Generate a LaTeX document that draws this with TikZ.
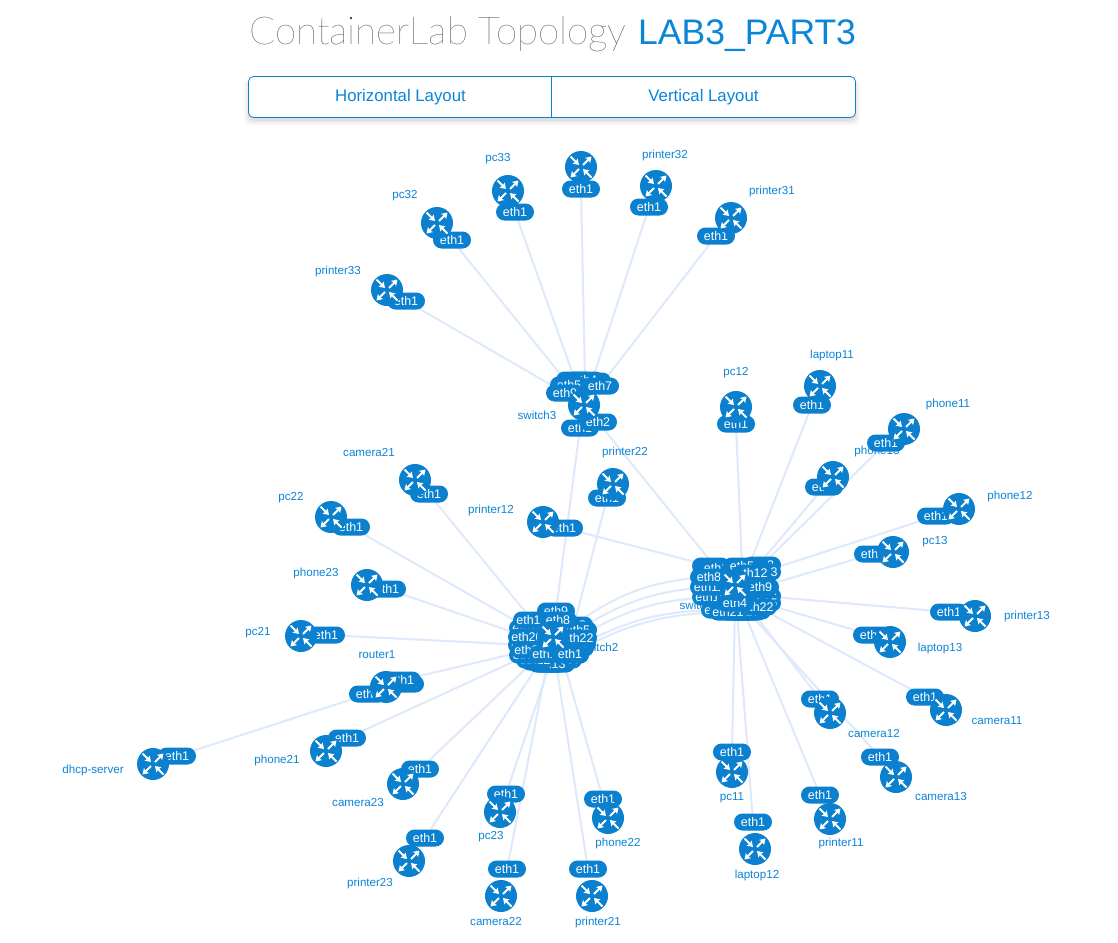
\documentclass[tikz,border=0pt]{standalone}
\usepackage{fontspec}
\setmainfont{Liberation Sans}
\newfontfamily\titlefont{Lato Hairline}
\usetikzlibrary{arrows.meta,calc}
\definecolor{blu}{HTML}{0B80CF}
\definecolor{edgec}{HTML}{DEE9FB}
\definecolor{txtb}{HTML}{0A85D8}
\tikzset{
 lnk/.style={draw=edgec,line width=2pt},
 nodelabel/.style={text=txtb,font=\fontsize{11.6}{11.6}\selectfont,inner sep=0pt},
 badge/.style={fill=blu,rounded corners=8.5pt,minimum width=38pt,minimum height=17pt,inner sep=0pt,text=white,font=\fontsize{12.5}{12.5}\selectfont},
 icon/.style={circle,fill=blu,minimum size=32pt,inner sep=0pt},
 arr/.style={draw=white,line width=1.9pt,-{Stealth[length=5.5pt,width=7pt,inset=0.8pt]}},
 btn/.style={text=txtb,font=\fontsize{16.8}{16.8}\selectfont}
}
\newcommand{\routericon}[3]{%
 \node[icon] (#1) at (#2,#3) {};
 \draw[arr] ($(#1)+(-10.5,-10.5)$) -- ($(#1)+(-2,-2)$);
 \draw[arr] ($(#1)+(10.5,10.5)$) -- ($(#1)+(2,2)$);
 \draw[arr] ($(#1)+(2,-2)$) -- ($(#1)+(10.5,-10.5)$);
 \draw[arr] ($(#1)+(-2,2)$) -- ($(#1)+(-10.5,10.5)$);
}
\pgfdeclarelayer{bgl}\pgfdeclarelayer{edges}
\pgfsetlayers{bgl,edges,main}
\begin{document}
\begin{tikzpicture}[x=1pt,y=-1pt]
\useasboundingbox (0,0) rectangle (1118,942);
\begin{pgfonlayer}{bgl}
\fill[white] (0,0) rectangle (1118,942);
\end{pgfonlayer}
% title
\node[anchor=base west,inner sep=0pt,font=\titlefont\fontsize{38.5}{38.5}\selectfont,text=black!85] (title) at (249,45) {ContainerLab Topology};
\node[anchor=base west,inner sep=0pt,font=\fontsize{35.5}{35.5}\selectfont,text=txtb] (title2) at (638,45) {LAB3\_PART3};
% buttons
\foreach \d/\o in {6/.03,4/.04,2/.05}
 {\fill[black,opacity=\o,rounded corners=5pt] (250-\d,80) rectangle (854+\d,119+\d);}
\draw[draw=blu,fill=white,rounded corners=5pt,line width=.8pt] (248.5,76.5) rectangle (855.5,117.5);
\draw[draw=blu,line width=.8pt] (551.5,76.5) -- (551.5,117.5);
\node[btn] (b1) at (400.5,97.5) {Horizontal Layout};
\node[btn] (b2) at (703.5,97.5) {Vertical Layout};
% labels
\foreach \t/\x/\y in {pc33/498/158,printer32/665/154,printer31/772/190,pc32/405/195,printer33/338/270,
 switch3/537/414,pc12/736/372,laptop11/832/354,phone11/948/403,phone13/877/450,phone12/1010/495,
 pc13/935/541,printer13/1027/615,laptop13/940/647,camera11/997/720,camera12/874/732,camera13/941/795,
 printer11/841/842,laptop12/757/874,pc11/732/797,switch1/699/604,switch2/599/646,printer22/625/451,
 printer12/491/509,camera21/369/452,pc22/291/497,phone23/316/572,pc21/258/632,router1/377/654,
 phone21/277/759,dhcp-server/93/769,camera23/358/801,pc23/491/836,phone22/618/842,printer23/370/882,
 camera22/496/920,printer21/598/921}
 {\node[nodelabel] (l\t) at (\x,\y+1) {\t};}
% leaf badges
\foreach \n/\x/\y in {pcthree/515/212,top/581/189,prtwo/649/207,prone/716/236,pctwo/452/240,prthree/406/301,
 pcot/736/424,lapone/812/405,phone/886/443,phthree/824/487,phtwo/936/516,pcoth/873/554,
 prth/949/612,lapth/872/635,camone/925/697,camtwo/820/699,camth/880/757,prone1/820/795,
 laptwo/753/822,pcone/732/752,prtt/607/498,prot/564/528,camto/429/494,pctt/351/527,
 phtt/387/589,pcto/326/635,phto/347/738,dhcp/177/756,camtth/420/769,pctth/506/794,
 phttw/603/799,prtth/425/838,camttw/507/869,prto/588/869,rtrb/405/684}
 {\node[badge] (b\n) at (\x,\y) {eth1};}
\node[badge] (brtr) at (402,680) {eth1};
\node[badge] (brtrf) at (368,694) {eth4};
% switch3 badges
\node[badge] (c3) at (592,381) {eth3};
\node[badge] (c6) at (575,380) {eth6};
\node[badge] (c4) at (585,380) {eth4};
\node[badge] (c7) at (600,386) {eth7};
\node[badge] (c5) at (569,385) {eth5};
\node[badge] (c9) at (565,393) {eth9};
\node[badge] (c1) at (580,428) {eth1};
\node[badge] (c2) at (598,422) {eth2};
% switch1 badges
\foreach \n/\t/\x/\y in {
 a20/eth20/737/612,a19/eth19/748/612,a18/eth18/752/611,a17/eth17/744/612,a16/eth16/720/610,
 a21/eth21/728/612,a3/eth3/711/566,a1/eth1/716/568,a10/eth10/711/597,a11/eth11/709/587,
 a8/eth8/709/577,a2/eth2/762/565,a7/eth7/748/568,a6/eth6/754/570,a13/eth13/762/572,
 a14/eth14/762/596,a15/eth15/762/603,a22/eth22/758/607,a5/eth5/742/566,a12/eth12/752/573,
 a9/eth9/760/587,a4/eth4/735/603}
 {\node[badge] (\n) at (\x,\y) {\t};}
% switch2 badges
\node[badge] (w17) at (547,664) {eth17};
\node[badge] (w16) at (540,662) {eth16};
\node[badge] (w15) at (556,664) {eth15};
\node[badge] (w14) at (563,660) {eth14};
\node[badge] (w13) at (550,664) {eth13};
\node[badge] (w12) at (535,660) {eth12};
\node[badge] (w3) at (574,625) {eth3};
\node[badge] (w5) at (578,630) {eth5};
\node[badge] (w4) at (577,644) {eth4};
\node[badge] (w6) at (575,648) {eth6};
\node[badge] (w9) at (556,611) {eth9};
\node[badge] (w7) at (570,655) {eth7};
\node[badge] (w11) at (528,655) {eth11};
\node[badge] (w19) at (527,645) {eth19};
\node[badge] (w18) at (528,628) {eth18};
\node[badge] (w20) at (527,637) {eth20};
\node[badge] (w10) at (532,620) {eth10};
\node[badge] (w8) at (558,620) {eth8};
\node[badge] (w22) at (578,638) {eth22};
\node[badge] (w21) at (530,650) {eth21};
\node[badge] (w2) at (548,654) {eth10};
\node[badge] (w1) at (570,654) {eth1};
% edges
\begin{pgfonlayer}{edges}
\foreach \a/\b in {c5/bpctwo,c6/bpcthree,c4/btop,c3/bprtwo,c7/bprone,c9/bprthree,
 c1/w9,c2/a1,
 a5/bpcot,a7/blapone,a2/bphone,a6/bphthree,a13/bphtwo,a9/bpcoth,a14/bprth,a15/blapth,
 a22/bcamone,a18/bcamtwo,a19/bcamth,a17/bprone1,a20/blaptwo,a4/bpcone,a3/bprot,
 w3/bprtt,w10/bcamto,w18/bpctt,w20/bphtt,w19/bpcto,w21/brtr,w11/bphto,w12/bcamtth,
 w13/bpctth,w14/bphttw,w16/bprtth,w17/bcamttw,w15/bprto,brtrf/bdhcp}
 {\draw[lnk] (\a.center) -- (\b.center);}
\draw[lnk] (w3.center) to[bend left=16] (a8.center);
\draw[lnk] (w5.center) to[bend left=14] (a11.center);
\draw[lnk] (w22.center) to[bend left=14] (a10.center);
\draw[lnk] (w6.center) to[bend left=14] (a16.center);
\draw[lnk] (w7.center) to[bend left=14] (a21.center);
\end{pgfonlayer}
% icons
\routericon{pcthree}{508}{191}\routericon{top}{581}{167}\routericon{prtwo}{656}{186}\routericon{prone}{731}{218}
\routericon{pctwo}{437}{223}\routericon{prthree}{387}{290}\routericon{swc}{584}{405}\routericon{pcot}{736}{407}
\routericon{lapone}{820}{386}\routericon{phone}{904}{429}\routericon{phthree}{833}{477}\routericon{phtwo}{959}{509}
\routericon{pcoth}{893}{552}\routericon{prth}{975}{616}\routericon{lapth}{890}{642}\routericon{camone}{946}{710}
\routericon{camtwo}{830}{713}\routericon{camth}{896}{777}\routericon{prone1}{830}{819}\routericon{laptwo}{755}{849}
\routericon{pcone}{732}{772}\routericon{swa}{735}{585}\routericon{swb}{553}{637}\routericon{prtt}{613}{484}
\routericon{prot}{543}{522}\routericon{camto}{415}{480}\routericon{pctt}{331}{517}\routericon{phtt}{367}{585}
\routericon{pcto}{301}{636}\routericon{rtr}{386}{687}\routericon{phto}{326}{751}\routericon{dhcp}{153}{764}
\routericon{camtth}{403}{784}\routericon{pctth}{500}{812}\routericon{phttw}{608}{818}\routericon{prtth}{409}{861}
\routericon{camttw}{501}{896}\routericon{prto}{592}{896}
\end{tikzpicture}
\end{document}
